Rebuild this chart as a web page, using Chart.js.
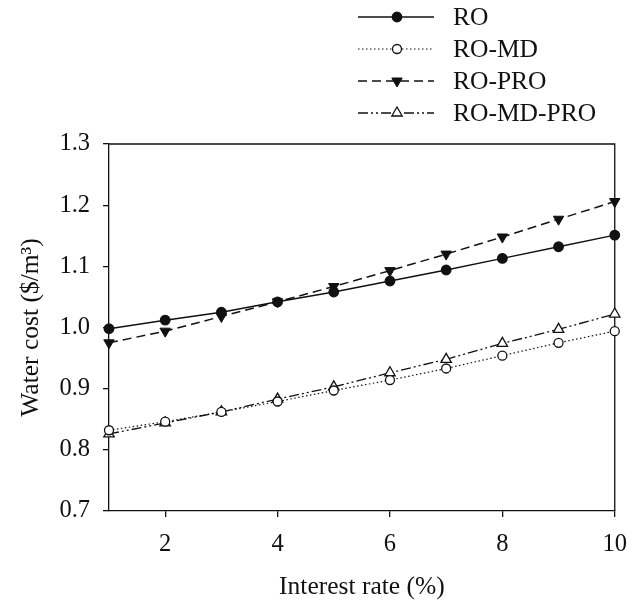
<!DOCTYPE html>
<html>
<head>
<meta charset="utf-8">
<title>Water cost vs interest rate</title>
<script src="https://cdn.jsdelivr.net/npm/chart.js@4.4.0/dist/chart.umd.min.js"></script>
<style>
  html, body { margin: 0; padding: 0; background: #fff; }
  #wrap { width: 640px; height: 601px; position: relative; }
</style>
</head>
<body>
<div id="wrap"><canvas id="cost"></canvas></div>
<script>
// interest rate (%) and water cost ($/m3) per configuration
var rates = [1, 2, 3, 4, 5, 6, 7, 8, 9, 10];
var costRO = [0.998, 1.012, 1.025, 1.042, 1.058, 1.076, 1.094, 1.113, 1.132, 1.151];
var costROMD = [0.832, 0.846, 0.862, 0.879, 0.897, 0.914, 0.933, 0.954, 0.975, 0.994];
var costROPRO = [0.975, 0.994, 1.018, 1.042, 1.067, 1.093, 1.120, 1.148, 1.177, 1.206];
var costROMDPRO = [0.826, 0.844, 0.862, 0.883, 0.903, 0.926, 0.948, 0.974, 0.997, 1.022];

var xTicks = [2, 4, 6, 8, 10];
var yTicks = [0.7, 0.8, 0.9, 1.0, 1.1, 1.2, 1.3];

var SERIF = "'Liberation Serif', 'Times New Roman', serif";
var INK = '#111';

function pairs(ys) {
  return rates.map(function (r, i) { return { x: r, y: ys[i] }; });
}

// black frame around the plot area (top and right sides)
var frame = {
  id: 'frame',
  beforeDatasetsDraw: function (chart) {
    var a = chart.chartArea, ctx = chart.ctx;
    ctx.save();
    ctx.strokeStyle = INK;
    ctx.lineWidth = 1.3;
    ctx.beginPath();
    ctx.moveTo(a.left, a.top);
    ctx.lineTo(a.right, a.top);
    ctx.lineTo(a.right, a.bottom);
    ctx.stroke();
    ctx.restore();
  }
};

// legend with line sample + marker, stacked at top right
var sampleLegend = {
  id: 'sampleLegend',
  afterDraw: function (chart) {
    var ctx = chart.ctx;
    var x0 = 358, x1 = 434, xm = 397, xt = 453;
    var rowY = [17, 49, 81, 113];
    chart.data.datasets.forEach(function (ds, i) {
      var y = rowY[i];
      ctx.save();
      ctx.strokeStyle = INK;
      ctx.lineWidth = ds.borderWidth;
      ctx.setLineDash(ds.borderDash || []);
      ctx.beginPath();
      ctx.moveTo(x0, y);
      ctx.lineTo(x1, y);
      ctx.stroke();
      ctx.setLineDash([]);
      ctx.fillStyle = ds.pointBackgroundColor;
      ctx.strokeStyle = INK;
      ctx.lineWidth = ds.pointBorderWidth;
      Chart.helpers.drawPoint(ctx, {
        pointStyle: ds.pointStyle,
        rotation: ds.pointRotation || 0,
        radius: ds.pointRadius,
        borderWidth: ds.pointBorderWidth
      }, xm, y);
      ctx.fillStyle = INK;
      ctx.font = '25.5px ' + SERIF;
      ctx.textBaseline = 'middle';
      ctx.textAlign = 'left';
      ctx.fillText(ds.label, xt, y + 1);
      ctx.restore();
    });
  }
};

var ctx = document.getElementById('cost').getContext('2d');
new Chart(ctx, {
  type: 'line',
  data: {
    datasets: [
      {
        label: 'RO', data: pairs(costRO),
        borderColor: INK, borderWidth: 1.5,
        pointStyle: 'circle', pointRadius: 4.8, pointBorderWidth: 1.2,
        pointBackgroundColor: INK, pointBorderColor: INK
      },
      {
        label: 'RO-MD', data: pairs(costROMD),
        borderColor: INK, borderWidth: 1.2, borderDash: [1.5, 2.5],
        pointStyle: 'circle', pointRadius: 4.5, pointBorderWidth: 1.3,
        pointBackgroundColor: '#fff', pointBorderColor: INK
      },
      {
        label: 'RO-PRO', data: pairs(costROPRO),
        borderColor: INK, borderWidth: 1.5, borderDash: [9, 5],
        pointStyle: 'triangle', pointRotation: 180, pointRadius: 6, pointBorderWidth: 1,
        pointBackgroundColor: INK, pointBorderColor: INK
      },
      {
        label: 'RO-MD-PRO', data: pairs(costROMDPRO),
        borderColor: INK, borderWidth: 1.3, borderDash: [10, 3, 2, 3, 2, 3],
        pointStyle: 'triangle', pointRadius: 6, pointBorderWidth: 1.3,
        pointBackgroundColor: '#fff', pointBorderColor: INK
      }
    ]
  },
  options: {
    responsive: true,
    maintainAspectRatio: false,
    animation: false,
    devicePixelRatio: 1,
    clip: false,
    layout: { padding: { top: 144, right: 24, left: 16, bottom: 0 } },
    elements: { line: { tension: 0, fill: false } },
    plugins: { legend: { display: false }, tooltip: { enabled: false } },
    scales: {
      x: {
        type: 'linear', min: 1, max: 10,
        afterBuildTicks: function (scale) {
          scale.ticks = xTicks.map(function (v) { return { value: v }; });
        },
        afterFit: function (scale) { scale.height = 90; },
        grid: { drawOnChartArea: false, tickLength: 6, color: INK, lineWidth: 1.3 },
        border: { color: INK, width: 1.3 },
        ticks: { color: INK, font: { family: SERIF, size: 24.5 }, padding: 13, maxRotation: 0 },
        title: {
          display: true, text: 'Interest rate (%)', color: INK,
          font: { family: SERIF, size: 25.5 }, padding: { top: 0, bottom: -2 }
        }
      },
      y: {
        min: 0.7, max: 1.3,
        afterBuildTicks: function (scale) {
          scale.ticks = yTicks.map(function (v) { return { value: v }; });
        },
        afterFit: function (scale) { scale.width = 93; },
        grid: { drawOnChartArea: false, tickLength: 6, color: INK, lineWidth: 1.3 },
        border: { color: INK, width: 1.3 },
        ticks: {
          color: INK, font: { family: SERIF, size: 24.5 }, padding: 13,
          callback: function (v) { return Number(v).toFixed(1); }
        },
        title: {
          display: true, text: 'Water cost ($/m\u00B3)', color: INK,
          font: { family: SERIF, size: 25.5 }, padding: 0
        }
      }
    }
  },
  plugins: [frame, sampleLegend]
});
</script>
</body>
</html>
